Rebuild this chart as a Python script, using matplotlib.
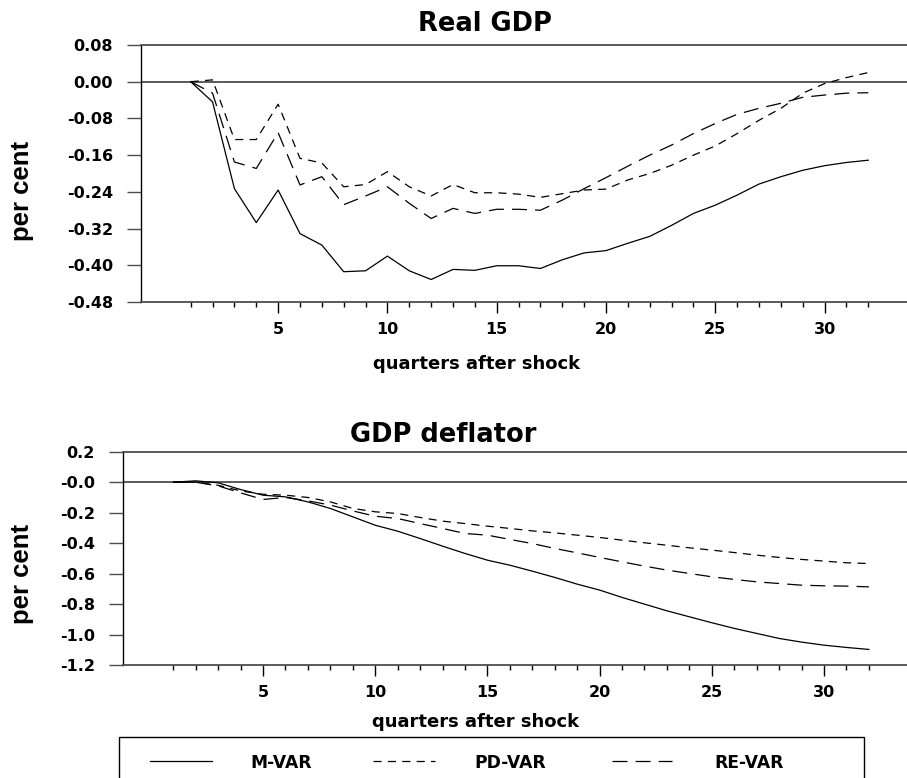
import numpy as np
import matplotlib
matplotlib.use("Agg")
import matplotlib.pyplot as plt
from matplotlib.lines import Line2D
from matplotlib.patches import Rectangle

plt.rcParams['font.family'] = ['DejaVu Sans']
plt.rcParams['font.weight'] = 'bold'

quarters = np.arange(1, 33)

# impulse responses, real GDP (per cent)
gdp_mvar = [0.000, -0.044, -0.233, -0.307, -0.236, -0.331, -0.356, -0.414,
            -0.412, -0.380, -0.412, -0.431, -0.409, -0.411, -0.401, -0.401,
            -0.407, -0.388, -0.373, -0.368, -0.352, -0.337, -0.313, -0.287,
            -0.269, -0.247, -0.223, -0.207, -0.193, -0.183, -0.176, -0.171]
gdp_pdvar = [0.000, 0.004, -0.126, -0.126, -0.049, -0.167, -0.177, -0.229,
             -0.224, -0.196, -0.229, -0.249, -0.224, -0.242, -0.242, -0.245,
             -0.252, -0.244, -0.236, -0.234, -0.214, -0.200, -0.182, -0.160,
             -0.140, -0.113, -0.084, -0.058, -0.025, -0.004, 0.009, 0.020]
gdp_revar = [0.000, -0.025, -0.175, -0.189, -0.111, -0.225, -0.207, -0.268,
             -0.249, -0.229, -0.265, -0.298, -0.276, -0.287, -0.278, -0.278,
             -0.280, -0.258, -0.233, -0.209, -0.184, -0.160, -0.138, -0.113,
             -0.091, -0.071, -0.058, -0.047, -0.034, -0.029, -0.025, -0.024]

# impulse responses, GDP deflator (per cent)
defl_mvar = [0.000, 0.009, -0.004, -0.048, -0.085, -0.096, -0.129, -0.172,
             -0.227, -0.282, -0.321, -0.369, -0.419, -0.467, -0.511, -0.544,
             -0.583, -0.624, -0.668, -0.707, -0.755, -0.799, -0.843, -0.882,
             -0.921, -0.958, -0.991, -1.024, -1.048, -1.068, -1.083, -1.096]
defl_pdvar = [0.000, 0.000, -0.020, -0.057, -0.079, -0.085, -0.100, -0.129,
              -0.172, -0.194, -0.205, -0.231, -0.255, -0.271, -0.288, -0.303,
              -0.319, -0.332, -0.347, -0.362, -0.380, -0.397, -0.413, -0.430,
              -0.445, -0.461, -0.478, -0.493, -0.506, -0.517, -0.528, -0.533]
defl_revar = [0.000, 0.000, -0.024, -0.070, -0.113, -0.100, -0.122, -0.150,
              -0.188, -0.223, -0.238, -0.271, -0.303, -0.336, -0.347, -0.375,
              -0.402, -0.434, -0.463, -0.493, -0.522, -0.550, -0.576, -0.598,
              -0.620, -0.637, -0.653, -0.664, -0.675, -0.679, -0.681, -0.686]

gdp_yticks = [0.08, 0.00, -0.08, -0.16, -0.24, -0.32, -0.40, -0.48]
gdp_ylabels = ['0.08', '0.00', '-0.08', '-0.16', '-0.24', '-0.32', '-0.40', '-0.48']
defl_yticks = [0.2, 0.0, -0.2, -0.4, -0.6, -0.8, -1.0, -1.2]
defl_ylabels = ['0.2', '-0.0', '-0.2', '-0.4', '-0.6', '-0.8', '-1.0', '-1.2']
xmajor = [5, 10, 15, 20, 25, 30]

series_names = ['M-VAR', 'PD-VAR', 'RE-VAR']
styles = [dict(ls='-'), dict(ls=(0, (6.5, 5.0))), dict(ls=(0, (12.0, 6.5)))]

W, H = 907, 778
fig = plt.figure(figsize=(W / 100, H / 100), dpi=100)

def px_axes(left, top, right, bottom):
    return fig.add_axes([left / W, 1 - bottom / H, (right - left) / W, (bottom - top) / H])

ax1 = px_axes(141, 45, 907, 302)
ax2 = px_axes(122.7, 451.7, 907, 665.3)

gray = '0.3'

def style_axes(ax, yticks, ylabels, ylim, xlim):
    ax.set_xlim(*xlim)
    ax.set_ylim(*ylim)
    ax.spines['right'].set_visible(False)
    ax.spines['left'].set_color('black')
    ax.spines['left'].set_linewidth(1.0)
    for s in ['top', 'bottom']:
        ax.spines[s].set_color(gray)
        ax.spines[s].set_linewidth(1.3)
    ax.axhline(0, color=gray, lw=1.3, zorder=1)
    ax.set_yticks(yticks)
    ax.set_yticklabels(ylabels)
    ax.set_xticks(xmajor)
    ax.set_xticks([q for q in quarters if q not in xmajor], minor=True)
    ax.tick_params(axis='y', direction='out', length=10, width=1.0, color=gray,
                   pad=10, labelsize=11.5)
    ax.tick_params(axis='x', which='major', direction='out', length=8, width=1.0,
                   pad=6.5, labelsize=11.5)
    ax.tick_params(axis='x', which='minor', direction='out', length=3.6, width=1.0)
    for lab in ax.get_xticklabels() + ax.get_yticklabels():
        lab.set_fontweight('bold')

def draw(ax, data):
    for vals, st in zip(data, styles):
        ax.plot(quarters, vals, color='black', lw=0.9, **st)

draw(ax1, [gdp_mvar, gdp_pdvar, gdp_revar])
style_axes(ax1, gdp_yticks, gdp_ylabels, (-0.48, 0.08), (-1.274, 33.77))
draw(ax2, [defl_mvar, defl_pdvar, defl_revar])
style_axes(ax2, defl_yticks, defl_ylabels, (-1.2, 0.2), (-1.255, 33.70))

def ftext(x, y, s, **kw):
    fig.text(x / W, 1 - y / H, s, fontweight='bold', **kw)

ftext(485, 31, 'Real GDP', ha='center', va='baseline', fontsize=18.5)
ftext(443, 442, 'GDP deflator', ha='center', va='baseline', fontsize=18.5)
ftext(477, 369, 'quarters after shock', ha='center', va='baseline', fontsize=13)
ftext(476, 727, 'quarters after shock', ha='center', va='baseline', fontsize=13)
ftext(22, 191, 'per cent', ha='center', va='center', rotation=90, fontsize=18.5,
      family='Liberation Sans')
ftext(22, 574, 'per cent', ha='center', va='center', rotation=90, fontsize=18.5,
      family='Liberation Sans')

# legend box running off the bottom edge
fig.add_artist(Rectangle((119 / W, -0.05), (864 - 119) / W, 1 - 737 / H + 0.05,
                         transform=fig.transFigure, fill=False, ec='black', lw=1.0,
                         clip_on=False))
key_x = [(150, 212), (373, 435), (612, 672)]
text_x = [281, 510, 749]
for (x0, x1), tx, name, st in zip(key_x, text_x, series_names, styles):
    fig.add_artist(Line2D([x0 / W, x1 / W], [1 - 761 / H] * 2, transform=fig.transFigure,
                          color='black', lw=0.9, **st))
    ftext(tx, 767.7, name, ha='center', va='baseline', fontsize=12.3)

fig.savefig('out.png', dpi=100)
